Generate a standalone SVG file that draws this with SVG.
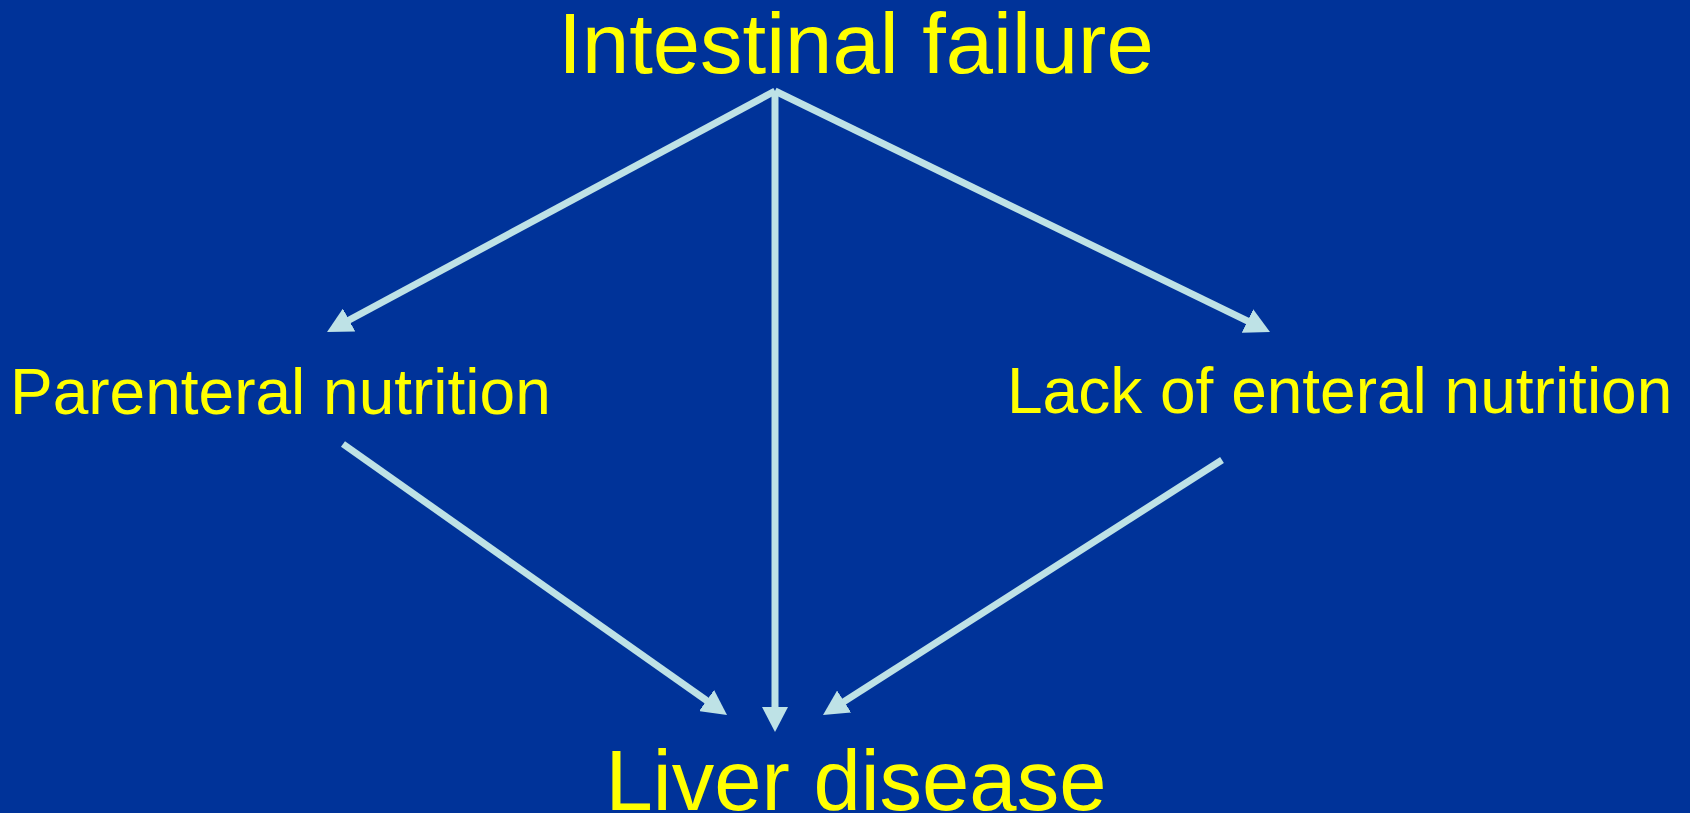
<svg xmlns="http://www.w3.org/2000/svg" width="1690" height="813" viewBox="0 0 1690 813">
  <style>
    .lbl { font-family: "Liberation Sans", Arial, sans-serif; fill: #FFFF00; }
    .big { font-size: 85px; }
    .mid { font-size: 64px; }
    .conn { stroke: #BEE2E6; stroke-width: 7; fill: none; marker-end: url(#head); }
  </style>
  <defs>
    <marker id="head" viewBox="0 -13 25 26" markerUnits="userSpaceOnUse" markerWidth="25" markerHeight="26" refX="2" refY="0" orient="auto">
      <path d="M0,-13 L25,0 L0,13 z" fill="#BEE2E6"/>
    </marker>
  </defs>
  <rect x="0" y="0" width="1690" height="813" fill="#003399"/>
  <g id="connectors">
    <line class="conn" x1="775" y1="91" x2="347.3" y2="321"/>
    <line class="conn" x1="775" y1="91" x2="775" y2="709"/>
    <line class="conn" x1="775" y1="91" x2="1249.3" y2="321.9"/>
    <line class="conn" x1="343" y1="444" x2="708.2" y2="701.7"/>
    <line class="conn" x1="1222" y1="460" x2="842.4" y2="702.6"/>
  </g>
  <g id="intestinal-failure">
    <text class="lbl big" x="856" y="73" text-anchor="middle">Intestinal failure</text>
  </g>
  <g id="parenteral-nutrition">
    <text class="lbl mid" x="10" y="414">Parenteral nutrition</text>
  </g>
  <g id="lack-of-enteral-nutrition">
    <text class="lbl mid" x="1007" y="413">Lack of enteral nutrition</text>
  </g>
  <g id="liver-disease">
    <text class="lbl big" x="856" y="810" text-anchor="middle">Liver disease</text>
  </g>
</svg>
